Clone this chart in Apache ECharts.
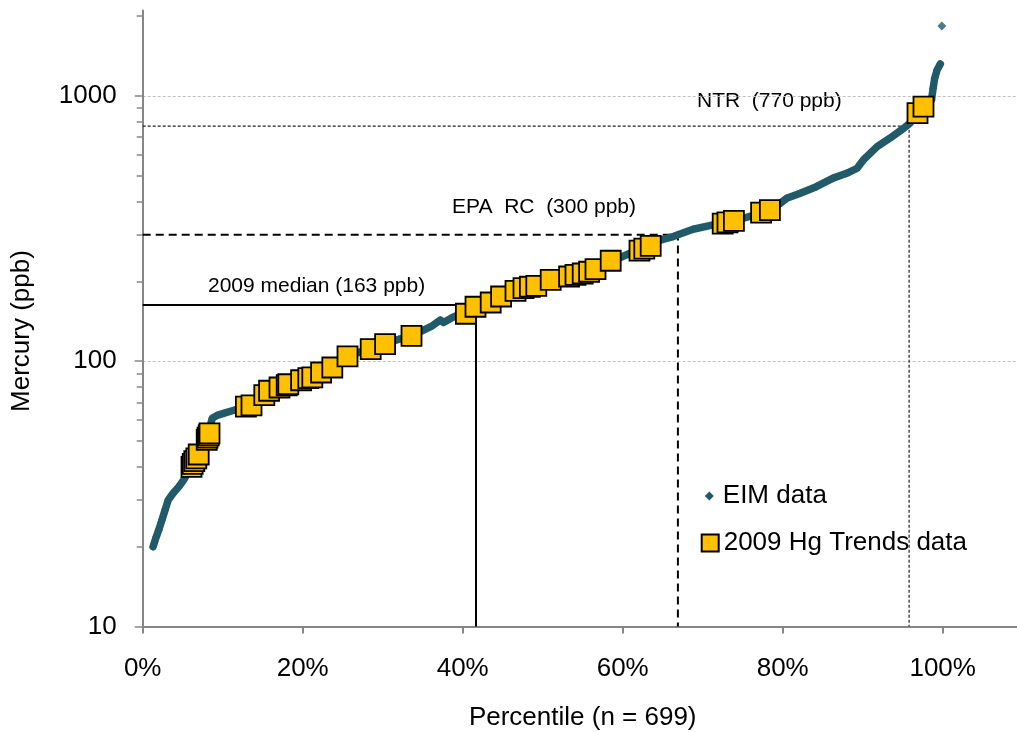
<!DOCTYPE html>
<html>
<head>
<meta charset="utf-8">
<script src="https://cdn.jsdelivr.net/npm/echarts@6/dist/echarts.min.js"></script>
<style>
  html, body { margin: 0; padding: 0; background: #ffffff; }
  #chart { width: 1017px; height: 732px; }
</style>
</head>
<body>
<div id="chart"></div>
<script>
// EIM sediment mercury, sorted: percentile (%) and concentration (ppb)
const eimPct = [1.3, 1.7, 2.0, 2.4, 2.8, 3.2, 3.8, 4.5, 5.1, 5.6, 6.1, 6.5, 7.0, 7.5, 8.0, 8.3, 8.5, 8.7,
  9.3, 10.2, 11.5, 12.9, 13.6, 14.4, 15.2, 15.8, 17.1, 18.0, 19.8, 21.2, 22.3, 23.7, 24.7, 25.6, 27.0,
  28.5, 30.3, 32.0, 33.6, 35.1, 36.2, 37.2, 37.6, 38.5, 39.3, 40.4, 41.6, 43.5, 44.8, 46.6, 48.4, 49.2,
  51.0, 53.3, 55.0, 56.6, 57.6, 58.5, 59.7, 61.0, 62.1, 63.5, 64.7, 66.3, 66.9, 68.8, 71.3, 72.5, 73.9,
  75.1, 76.2, 77.3, 78.4, 79.7, 80.5, 82.2, 84.2, 86.3, 88.0, 89.3, 90.1, 91.8, 93.4, 95.1, 95.9, 96.85,
  97.6, 98.6, 98.8, 99.0, 99.3, 99.7];
const eimHg = [20, 21.8, 23.1, 25.2, 27.5, 30, 31.8, 33.6, 35.6, 37.8, 40, 42, 44.5, 47.5, 50.5, 53.5, 58, 61,
  62.5, 63.7, 65.5, 67.4, 68.2, 71, 74.5, 77.4, 79.6, 81.2, 84.8, 86.9, 90.7, 94.7, 99, 104.3, 108,
  111, 116, 121, 124.7, 131, 136, 143, 140, 145, 149, 151, 160.5, 166.5, 175.4, 184.3, 190.9, 192.5,
  202.8, 208.7, 214.2, 222.3, 230, 239.2, 246, 256, 261, 272.4, 286, 295, 300, 314.5, 326.4, 330, 338,
  346, 354, 363, 371, 394, 411.5, 430, 455, 490, 511, 534, 575, 644, 693, 755, 789, 861,
  911, 966, 1069, 1166, 1253, 1320];
// isolated maximum of the EIM set
const eimTopPct = [99.9];
const eimTopHg = [1837];

// 2009 Hg Trends lakes placed on the EIM percentile scale
const trendsPct = [6.1, 6.25, 6.45, 6.7, 7.0, 8.0, 8.1, 8.25, 8.35, 12.9, 13.6, 15.2, 15.8, 17.1, 18.0, 18.2,
  19.8, 20.7, 21.2, 22.3, 23.7, 25.6, 28.5, 30.3, 33.6, 40.4, 41.6, 43.5, 44.8, 46.6, 47.6, 48.4, 49.2,
  51.0, 53.3, 54.1, 55.0, 55.8, 56.6, 58.5, 62.1, 62.7, 63.5, 72.5, 73.1, 73.9, 77.3, 78.4, 96.85, 97.6];
const trendsHg = [40, 41, 42, 43, 44.5, 50.5, 51.5, 52.5, 53.5, 67.4, 68.2, 74.5, 77.4, 79.6, 81.2, 81.9,
  84.8, 86.3, 86.9, 90.7, 94.7, 104.3, 111, 116, 124.7, 151, 160.5, 166.5, 175.4, 184.3, 188.6, 190.9, 192.5,
  202.8, 208.7, 211.8, 214.2, 217.4, 222.3, 239.2, 261, 266, 272.4, 330, 334, 338, 363, 371, 861, 911];

// reference levels: name, concentration (ppb), percentile where the EIM curve reaches it
const refNames = ['2009 median (163 ppb)', 'EPA  RC  (300 ppb)', 'NTR  (770 ppb)'];
const refHg = [163, 300, 770];
const refPct = [41.66, 66.9, 95.8];

// axis ticks
const xTickValues = [0, 20, 40, 60, 80, 100];
const yTickValues = [10, 100, 1000];
const yMinorValues = [20, 30, 40, 50, 60, 70, 80, 90, 200, 300, 400, 500, 600, 700, 800, 900, 2000];

const FONT = 'Liberation Sans, Arial, Helvetica, sans-serif';
const Y_MIN = 10, Y_MAX = 2100;
const X_MIN = 0, X_MAX = 110;

const chart = echarts.init(document.getElementById('chart'), null, { renderer: 'canvas' });

const zip = (xs, ys) => xs.map((x, i) => [x, ys[i]]);

const refStyles = [
  { color: '#000000', width: 2, type: 'solid' },
  { color: '#000000', width: 2, type: [8, 5] },
  { color: '#222222', width: 1.2, type: [3, 2] }
];

const refSeries = refNames.map((name, i) => ({
  type: 'line',
  name: name,
  data: [[X_MIN, refHg[i]], [refPct[i], refHg[i]], [refPct[i], Y_MIN]],
  symbol: 'none',
  silent: true,
  z: 1,
  lineStyle: refStyles[i]
}));

const option = {
  animation: false,
  backgroundColor: '#ffffff',
  grid: { left: 142.7, top: 10.5, width: 880, height: 616, containLabel: false, outerBoundsMode: 'none' },
  xAxis: {
    type: 'value',
    min: X_MIN,
    max: X_MAX,
    name: 'Percentile (n = 699)',
    nameLocation: 'middle',
    nameGap: 78,
    nameTextStyle: { fontFamily: FONT, fontSize: 26, color: '#000' },
    axisLine: { show: true, lineStyle: { color: '#868686', width: 2 } },
    axisTick: { show: true, inside: false, length: 7, lineStyle: { color: '#868686', width: 2 },
      customValues: xTickValues },
    axisLabel: { fontFamily: FONT, fontSize: 26, color: '#000', margin: 29,
      customValues: xTickValues, formatter: v => v + '%' },
    splitLine: { show: false }
  },
  yAxis: [
    {
      type: 'log',
      logBase: 10,
      min: Y_MIN,
      max: Y_MAX,
      axisLine: { show: true, lineStyle: { color: '#868686', width: 2 } },
      axisTick: { show: true, inside: false, length: 8, lineStyle: { color: '#868686', width: 1.5 } },
      axisLabel: {
        fontFamily: FONT, fontSize: 26, color: '#000', margin: 26, showMaxLabel: false,
        formatter: v => (yTickValues.indexOf(Math.round(v)) >= 0 ? String(Math.round(v)) : '')
      },
      splitLine: { show: true, showMinLine: false, showMaxLine: false,
        lineStyle: { color: '#c0c0c0', width: 1, type: [3, 2] } }
    },
    {
      // minor ticks of the log scale, on a log10 value axis sharing the same extent
      type: 'value',
      min: Math.log10(Y_MIN),
      max: Math.log10(Y_MAX),
      position: 'left',
      axisLine: { show: false },
      axisLabel: { show: false },
      splitLine: { show: false },
      axisTick: { show: true, inside: false, length: 6, lineStyle: { color: '#868686', width: 1.5 },
        customValues: yMinorValues.map(v => Math.log10(v)) }
    }
  ],
  legend: [
    {
      data: [{ name: 'EIM data', icon: 'diamond' }],
      orient: 'vertical',
      left: 699.8,
      top: 478,
      itemWidth: 9,
      itemHeight: 9,
      selectedMode: false,
      textStyle: { fontFamily: FONT, fontSize: 26, color: '#000', padding: [0, 0, 0, 4] }
    },
    {
      data: [{ name: '2009 Hg Trends data', icon: 'rect' }],
      orient: 'vertical',
      left: 695.7,
      top: 525,
      itemWidth: 17,
      itemHeight: 17,
      selectedMode: false,
      textStyle: { fontFamily: FONT, fontSize: 26, color: '#000' }
    }
  ],
  series: refSeries.concat([
    {
      type: 'line',
      name: 'EIM data',
      data: zip(eimPct, eimHg),
      symbol: 'diamond',
      symbolSize: 8,
      showAllSymbol: true,
      z: 2,
      itemStyle: { color: '#215a68' },
      lineStyle: { color: '#215a68', width: 7.5, join: 'round', cap: 'round' }
    },
    {
      type: 'scatter',
      name: 'EIM data',
      data: zip(eimTopPct, eimTopHg),
      symbol: 'diamond',
      symbolSize: 9,
      z: 2,
      itemStyle: { color: '#215a68' }
    },
    {
      type: 'scatter',
      name: '2009 Hg Trends data',
      data: zip(trendsPct, trendsHg),
      symbol: 'rect',
      symbolSize: 20,
      z: 3,
      itemStyle: { color: '#ffc000', borderColor: '#000000', borderWidth: 1.8, opacity: 1 }
    }
  ]),
  graphic: [
    { type: 'text', x: 22, y: 331, rotation: Math.PI / 2,
      style: { text: 'Mercury (ppb)', font: '26px ' + FONT, fill: '#000', align: 'center', verticalAlign: 'middle' } },
    { type: 'text', left: 208, top: 275.5, style: { text: refNames[0], font: '21px ' + FONT, fill: '#000' } },
    { type: 'text', left: 452, top: 196.5, style: { text: refNames[1], font: '21px ' + FONT, fill: '#000' } },
    { type: 'text', left: 697, top: 90.5, style: { text: refNames[2], font: '21px ' + FONT, fill: '#000' } }
  ]
};

chart.setOption(option);
</script>
</body>
</html>
